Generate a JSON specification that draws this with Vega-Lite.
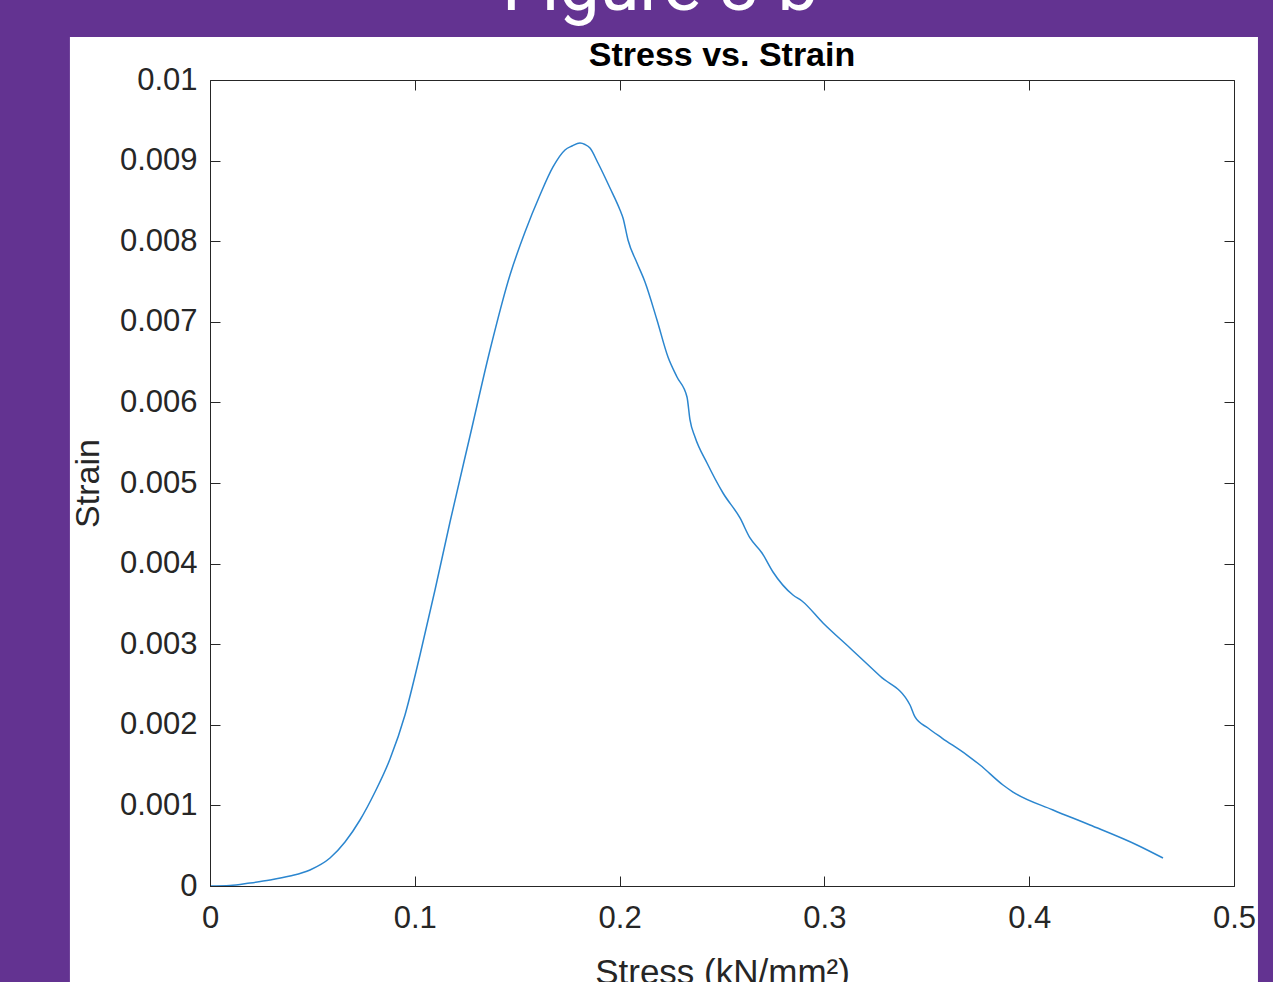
{
  "$schema": "https://vega.github.io/schema/vega-lite/v6.json",
  "width": 1024,
  "height": 806,
  "autosize": {"type": "none"},
  "padding": {"left": 210, "top": 80, "right": 39, "bottom": 96},
  "background": "#633391",
  "config": {
    "view": {"stroke": null},
    "font": "Liberation Sans"
  },
  "resolve": {"axis": {"x": "independent", "y": "independent"}},
  "layer": [
    {
      "data": {"values": [{"panel": "figure"}]},
      "mark": {"type": "rect", "color": "#ffffff", "clip": false},
      "encoding": {
        "x": {
          "datum": -0.0684, "type": "quantitative",
          "scale": {"domain": [0, 0.5], "nice": false, "zero": false},
          "axis": {"orient": "top", "values": [0, 0.1, 0.2, 0.3, 0.4, 0.5], "labels": false, "title": null, "grid": false, "tickSize": -10, "domainColor": "#262626", "tickColor": "#262626", "domainWidth": 1, "tickWidth": 1, "zindex": 1}
        },
        "x2": {"datum": 0.5117},
        "y": {
          "datum": 0.010533, "type": "quantitative",
          "scale": {"domain": [0, 0.01], "nice": false, "zero": false},
          "axis": {"orient": "right", "values": [0, 0.001, 0.002, 0.003, 0.004, 0.005, 0.006, 0.007, 0.008, 0.009, 0.01], "labels": false, "title": null, "grid": false, "tickSize": -10, "domainColor": "#262626", "tickColor": "#262626", "domainWidth": 1, "tickWidth": 1, "zindex": 1}
        },
        "y2": {"datum": -0.0016}
      }
    },
    {
      "data": {"values": [
        {"stress": 0, "strain": 0},
        {"stress": 0.00977, "strain": 0.0000062},
        {"stress": 0.01953, "strain": 0.0000372},
        {"stress": 0.0293, "strain": 0.0000744},
        {"stress": 0.03906, "strain": 0.000124},
        {"stress": 0.04883, "strain": 0.000199},
        {"stress": 0.05859, "strain": 0.000347},
        {"stress": 0.06592, "strain": 0.000546},
        {"stress": 0.07324, "strain": 0.000819},
        {"stress": 0.08057, "strain": 0.001166},
        {"stress": 0.08789, "strain": 0.001575},
        {"stress": 0.09521, "strain": 0.002122},
        {"stress": 0.10254, "strain": 0.002866},
        {"stress": 0.10986, "strain": 0.003672},
        {"stress": 0.11719, "strain": 0.004516},
        {"stress": 0.12695, "strain": 0.005583},
        {"stress": 0.13672, "strain": 0.00665},
        {"stress": 0.14648, "strain": 0.007581},
        {"stress": 0.15381, "strain": 0.008114},
        {"stress": 0.16113, "strain": 0.008573},
        {"stress": 0.16748, "strain": 0.008921},
        {"stress": 0.17334, "strain": 0.009132},
        {"stress": 0.17676, "strain": 0.009181},
        {"stress": 0.18066, "strain": 0.009218},
        {"stress": 0.18311, "strain": 0.0092},
        {"stress": 0.18555, "strain": 0.009156},
        {"stress": 0.18945, "strain": 0.00897},
        {"stress": 0.19531, "strain": 0.00866},
        {"stress": 0.2002, "strain": 0.008387},
        {"stress": 0.20166, "strain": 0.008288},
        {"stress": 0.2041, "strain": 0.008015},
        {"stress": 0.2085, "strain": 0.00773},
        {"stress": 0.2124, "strain": 0.007494},
        {"stress": 0.21826, "strain": 0.007022},
        {"stress": 0.22363, "strain": 0.006563},
        {"stress": 0.22803, "strain": 0.006315},
        {"stress": 0.23291, "strain": 0.006067},
        {"stress": 0.23438, "strain": 0.005782},
        {"stress": 0.23682, "strain": 0.005571},
        {"stress": 0.24268, "strain": 0.005248},
        {"stress": 0.25049, "strain": 0.004876},
        {"stress": 0.25879, "strain": 0.004566},
        {"stress": 0.26367, "strain": 0.004318},
        {"stress": 0.26953, "strain": 0.004132},
        {"stress": 0.2749, "strain": 0.003896},
        {"stress": 0.28467, "strain": 0.00361},
        {"stress": 0.28906, "strain": 0.003536},
        {"stress": 0.29932, "strain": 0.003263},
        {"stress": 0.3125, "strain": 0.002953},
        {"stress": 0.32715, "strain": 0.002605},
        {"stress": 0.3418, "strain": 0.002246},
        {"stress": 0.34424, "strain": 0.002097},
        {"stress": 0.35059, "strain": 0.00196},
        {"stress": 0.35742, "strain": 0.001836},
        {"stress": 0.36963, "strain": 0.001625},
        {"stress": 0.37598, "strain": 0.001501},
        {"stress": 0.38721, "strain": 0.001253},
        {"stress": 0.39209, "strain": 0.001166},
        {"stress": 0.41162, "strain": 0.000943},
        {"stress": 0.42969, "strain": 0.000757},
        {"stress": 0.45264, "strain": 0.000509},
        {"stress": 0.46533, "strain": 0.000347}
      ]},
      "mark": {"type": "line", "color": "#2b86cf", "strokeWidth": 1.5, "interpolate": "monotone", "clip": false},
      "encoding": {
        "x": {
          "field": "stress", "type": "quantitative",
          "scale": {"domain": [0, 0.5], "nice": false, "zero": false},
          "axis": {"orient": "bottom", "values": [0, 0.1, 0.2, 0.3, 0.4, 0.5], "format": "~g", "title": "Stress (kN/mm²)", "grid": false, "tickSize": -10, "labelPadding": 27, "titlePadding": 22, "labelFlush": false, "labelOverlap": false, "domainColor": "#262626", "tickColor": "#262626", "labelColor": "#262626", "titleColor": "#262626", "domainWidth": 1, "tickWidth": 1, "labelFont": "Liberation Sans", "titleFont": "Liberation Sans", "labelFontSize": 31, "titleFontSize": 35, "titleFontWeight": "normal", "zindex": 1}
        },
        "y": {
          "field": "strain", "type": "quantitative",
          "scale": {"domain": [0, 0.01], "nice": false, "zero": false},
          "axis": {"orient": "left", "values": [0, 0.001, 0.002, 0.003, 0.004, 0.005, 0.006, 0.007, 0.008, 0.009, 0.01], "format": "~g", "title": "Strain", "grid": false, "tickSize": -10, "labelPadding": 23, "titlePadding": 14, "labelFlush": false, "labelOverlap": false, "domainColor": "#262626", "tickColor": "#262626", "labelColor": "#262626", "titleColor": "#262626", "domainWidth": 1, "tickWidth": 1, "labelFont": "Liberation Sans", "titleFont": "Liberation Sans", "labelFontSize": 31, "titleFontSize": 34, "titleFontWeight": "normal", "zindex": 1}
        },
        "order": {"field": "stress", "type": "quantitative"}
      }
    },
    {
      "data": {"values": [{"label": "Stress vs. Strain"}]},
      "mark": {"type": "text", "color": "#000000", "font": "Liberation Sans", "fontSize": 34, "fontWeight": "bold", "align": "center", "baseline": "alphabetic", "clip": false},
      "encoding": {
        "x": {"datum": 0.25, "type": "quantitative", "axis": null},
        "y": {"datum": 0.010174, "type": "quantitative", "axis": null},
        "text": {"field": "label"}
      }
    },
    {
      "data": {"values": [{"label": "Figure 3 b"}]},
      "mark": {"type": "text", "color": "#ffffff", "font": "Roboto", "fontSize": 72, "align": "center", "baseline": "alphabetic", "clip": false},
      "encoding": {
        "x": {"datum": 0.21973, "type": "quantitative", "axis": null},
        "y": {"datum": 0.0108685, "type": "quantitative", "axis": null},
        "text": {"field": "label"}
      }
    }
  ]
}
